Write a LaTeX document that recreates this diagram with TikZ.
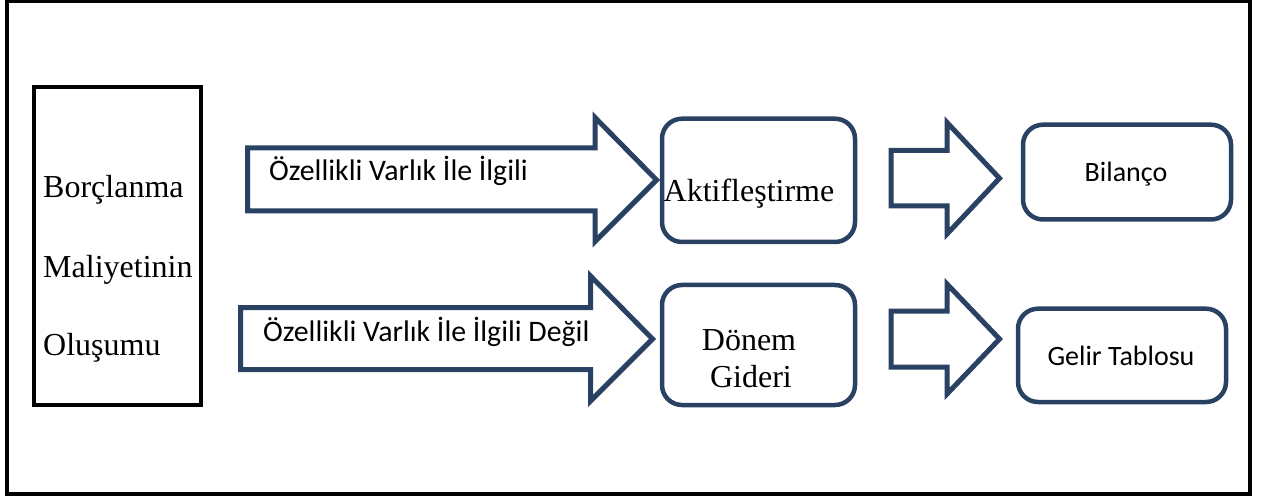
\documentclass[tikz,border=0pt]{standalone}
\usepackage{fontspec}
\setmainfont{Liberation Serif}
\newfontfamily\calibrifont{Carlito}
\definecolor{arrowblue}{RGB}{41,65,98}
\tikzset{blockarrow/.style={draw=arrowblue,line width=5pt},
 stepbox/.style={draw=arrowblue,line width=4.5pt,rounded corners=20pt},
 serif/.style={font=\fontsize{32}{38}\selectfont,inner sep=0pt},
 sans/.style={font=\calibrifont\fontsize{29.8}{35}\selectfont,inner sep=0pt},
 boxsans/.style={font=\calibrifont\fontsize{28}{34}\selectfont,inner sep=0pt}}

\begin{document}
\begin{tikzpicture}[x=1pt,y=-1pt]
\useasboundingbox (0,0) rectangle (1267,497);
\draw[line width=4pt] (7,1.5) rectangle (1249.5,494);
\node[draw,line width=4.3pt,minimum width=167pt,minimum height=317.7pt] (source) at (117.5,245.85) {};
\node[serif,anchor=base west] (borc) at (43,198) {Borçlanma};
\node[serif,anchor=base west] (maliyet) at (43,277) {Maliyetinin};
\node[serif,anchor=base west] (olusum) at (43,355) {Oluşumu};
% block arrows
\draw[blockarrow] (247.5,148)--(595,148)--(595,117.5)--(656.5,180)--(595,241.5)--(595,211)--(247.5,211)--cycle;
\draw[blockarrow] (240.5,307.5)--(590.5,307.5)--(590.5,276)--(652.5,339)--(590.5,401)--(590.5,369.5)--(240.5,369.5)--cycle;
\draw[blockarrow] (891,150.5)--(947,150.5)--(947,122.5)--(999.5,178.3)--(947,234)--(947,206)--(891,206)--cycle;
\draw[blockarrow] (891,311)--(947,311)--(947,284)--(999.5,339)--(947,394)--(947,367)--(891,367)--cycle;
\node[sans,anchor=base west] (ilgili) at (269,181) {Özellikli Varlık İle İlgili};
\node[sans,anchor=base west] (ilgilidegil) at (263,341.5) {Özellikli Varlık İle İlgili Değil};
% result boxes
\node[stepbox,minimum width=193pt,minimum height=123.3pt] (aktif) at (758.5,180.35) {};
\node[stepbox,minimum width=193pt,minimum height=120pt] (donem) at (758.5,345) {};
\node[stepbox,minimum width=208pt,minimum height=94.8pt] (bilanco) at (1127,172.1) {};
\node[stepbox,minimum width=208pt,minimum height=93.3pt] (gelir) at (1122,355.35) {};
\node[serif,anchor=base] (aktiftext) at (749,202) {Aktifleştirme};
\node[serif,anchor=base] (donemtext) at (749,350) {Dönem};
\node[serif,anchor=base] (gideritext) at (751,387) {Gideri};
\node[boxsans,anchor=base] (bilancotext) at (1126,182) {Bilanço};
\node[boxsans,anchor=base] (gelirtext) at (1121,365) {Gelir Tablosu};
\end{tikzpicture}
\end{document}
